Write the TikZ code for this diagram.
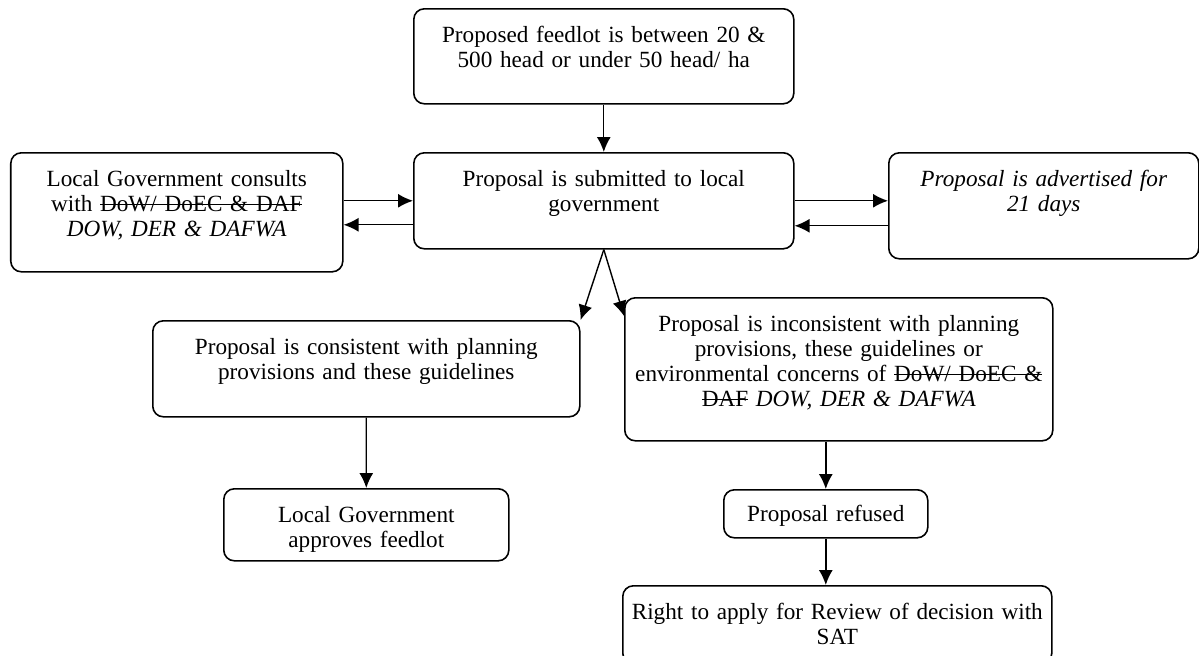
\documentclass[tikz,border=0pt]{standalone}
\usepackage{fontspec}
\setmainfont{Liberation Serif}
\usetikzlibrary{arrows.meta,positioning}

\newsavebox\strikebox
\newcommand\strikeout[1]{\leavevmode\sbox\strikebox{#1}\rlap{\usebox\strikebox}\rule[0.3em]{\wd\strikebox}{0.5pt}}

\tikzset{
	flowbox/.style 2 args={draw, line width=0.9pt, rounded corners=6pt, anchor=north west, align=center,
		inner xsep=0pt, inner ysep=0.38cm, text height=0.3cm, text width=#1, text depth=#2,
		font=\fontsize{13.2}{14.2}\selectfont},
	arr/.style={-{Latex[length=3mm,width=2.8mm]}, line width=0.8pt}
}

\begin{document}
\begin{tikzpicture}
	\useasboundingbox (0,0) rectangle (23.98,-13.1);
	% boxes
	\node[flowbox={7.6cm}{0.84cm}] (feed) at (8.26,-0.16) {Proposed feedlot is between 20 \&\\ 500 head or under 50 head/ ha};
	\node[flowbox={7.6cm}{0.86cm}] (submit) at (8.26,-3.04) {Proposal is submitted to local\\ government};
	\node[flowbox={6.64cm}{1.32cm}] (consult) at (0.2,-3.04) {Local Government consults\\ with \strikeout{DoW/ DoEC \& DAF}\\ \textit{DOW, DER \& DAFWA}};
	\node[flowbox={6.2cm}{1.06cm}] (advert) at (17.76,-3.04) {\textit{Proposal is advertised for}\\ \textit{21 days}};
	\node[flowbox={8.54cm}{0.86cm}] (cons) at (3.04,-6.4) {Proposal is consistent with planning\\ provisions and these guidelines};
	\node[flowbox={5.7cm}{0.38cm}] (appr) at (4.46,-9.76) {Local Government\\ approves feedlot};
	\node[flowbox={8.56cm}{1.8cm}] (incons) at (12.48,-5.94) {Proposal is inconsistent with planning\\ provisions, these guidelines or\\ environmental concerns of \strikeout{DoW/ DoEC \&}\\ \strikeout{DAF} \textit{DOW, DER \& DAFWA}};
	\node[flowbox={4.08cm}{0cm}, inner ysep=0.33cm] (refuse) at (14.46,-9.78) {Proposal refused};
	\node[flowbox={8.58cm}{0.5cm}] (review) at (12.44,-11.7) {Right to apply for Review of decision with\\ SAT};
	% connectors
	\draw[arr] (feed) -- (submit);
	\draw[arr] (consult.east |- submit.west) -- (submit.west);
	\draw[arr] ([yshift=-4.8mm]submit.west) -- ([yshift=-4.8mm]submit.west -| consult.east);
	\draw[arr] (submit.east) -- (submit.east -| advert.west);
	\draw[arr] ([yshift=-5mm]submit.east -| advert.west) -- ([yshift=-5mm]submit.east);
	\draw[arr] (submit.south) -- (cons.north east);
	\draw[arr] (submit.south) -- ([yshift=-3.8mm]incons.north west);
	\draw[arr] (cons) -- (appr);
	\draw[arr] (refuse.north |- incons.south) -- (refuse.north);
	\draw[arr] (refuse.south) -- (refuse.south |- review.north);
\end{tikzpicture}
\end{document}
